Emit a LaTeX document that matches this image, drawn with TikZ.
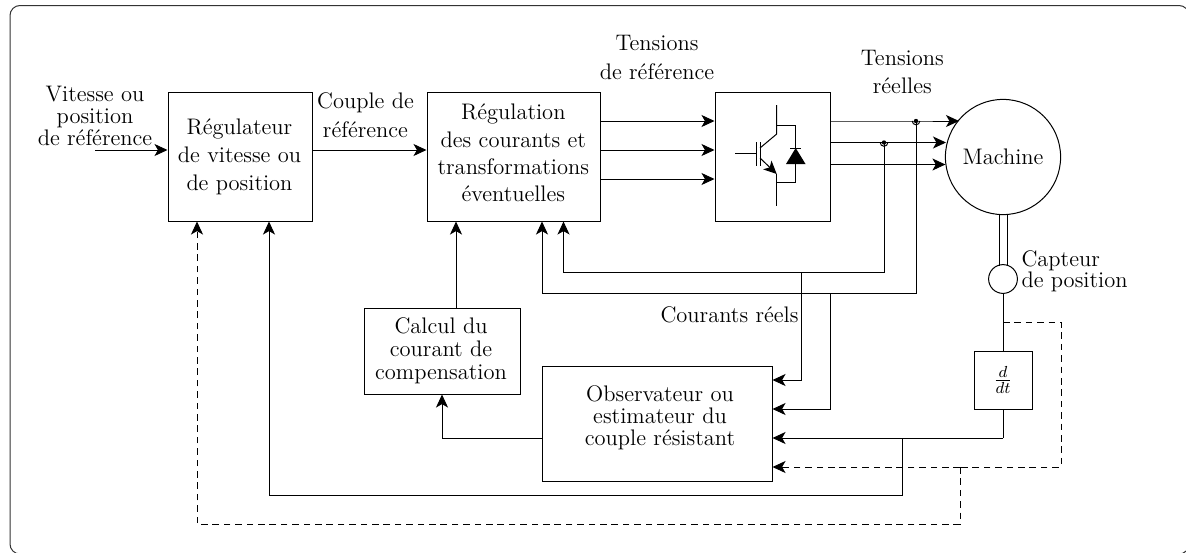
\documentclass[tikz,border=0pt]{standalone}
\usetikzlibrary{arrows.meta}
\tikzset{
  every picture/.style={line width=0.5pt},
  txt/.style={font=\fontsize{11.25}{#1}\selectfont},
  blockbox/.style={draw,inner sep=0pt,align=center},
  lab/.style={inner sep=0pt,align=center},
  arr/.style={-{Stealth[length=6.5pt,width=6pt,inset=1.7pt]}},
  dashline/.style={dash pattern=on 3.3pt off 2.4pt},
}
\newcommand{\boxat}[6]{\node[blockbox,minimum width=#4*0.5pt,minimum height=#5*0.5pt] (#1) at (#2,#3) {};}
\begin{document}
\begin{tikzpicture}[x=0.5pt,y=-0.5pt]
\useasboundingbox (0,0) rectangle (1186,552);
\clip (0,0) rectangle (1186,552);
\draw[rounded corners=5pt,draw=black!80] (10,5.5) rectangle (1189,554);
% blocks
\boxat{reg}{240}{156.5}{144}{129}{}
\boxat{cur}{513.5}{156.5}{173}{129}{}
\boxat{inv}{772.5}{156.5}{115}{129}{}
\boxat{obs}{657}{423.5}{230}{115}{}
\boxat{cal}{442}{351}{156}{86}{}
\node[blockbox,minimum width=29pt,minimum height=29pt,txt=13pt] (der) at (1003,380) {$\frac{d}{dt}$};
\node[draw,circle,minimum size=57.6pt,inner sep=0pt,txt=13pt] (mac) at (1003,157) {Machine};
\node[draw,circle,minimum size=14.4pt,inner sep=0pt] (cap) at (1003,279) {};
% block texts
\node[lab,txt=14.15pt] (t1) at (239.5,157) {R\'egulateur\\de vitesse ou\\de position};
\node[lab,txt=13.65pt] (t2) at (513.3,153) {R\'egulation\\des courants et\\transformations\\\'eventuelles};
\node[lab,txt=10.9pt] (t3) at (660,418) {Observateur ou\\estimateur du\\couple r\'esistant};
\node[lab,txt=11.5pt] (t4) at (441,351) {Calcul du\\courant de\\compensation};
% labels
\node[lab,txt=10.85pt] (l1) at (95,116) {Vitesse ou\\position\\de r\'ef\'erence};
\node[lab,txt=14.35pt] (l2) at (365.5,115) {Couple de\\r\'ef\'erence};
\node[lab,txt=14.5pt] (l3) at (657,57) {Tensions\\de r\'ef\'erence};
\node[lab,txt=13.85pt] (l4) at (902.3,72) {Tensions\\r\'eelles};
\node[lab,anchor=west,align=left,txt=10.7pt] (l5) at (1021,271) {Capteur\\de position};
\node[lab,anchor=east,txt=13pt] (l6) at (799,315) {Courants r\'eels};
% junction coordinates
\coordinate (in) at (95,150);
\coordinate (j1) at (884,142.5);
\coordinate (j2) at (916,121);
\coordinate (c1) at (884,272);
\coordinate (c2) at (916,293);
\coordinate (c1b) at (801,272);
\coordinate (c2b) at (830,293);
\coordinate (c1a) at (563.5,272);
\coordinate (c2a) at (542,293);
\coordinate (v1) at (1003,438);
\coordinate (v2) at (902,438);
\coordinate (v3) at (902,495);
\coordinate (v4) at (269,495);
\coordinate (d0) at (1003,322);
\coordinate (d1) at (1061,322);
\coordinate (d2) at (1061,467);
\coordinate (d3) at (960,467);
\coordinate (d4) at (960,524);
\coordinate (d5) at (197,524);
\coordinate (ca) at (442,438);
% forward path
\draw[arr] (in) -- (reg.west |- in);
\draw[arr] (reg.east |- in) -- (cur.west |- in);
\foreach \y in {121,150,179} \draw[arr] (cur.east |- 0,\y) -- (inv.west |- 0,\y);
% inverter to machine
\draw[arr] (inv.east |- j2) -- (j2) -- (959,121);
\draw[arr] (inv.east |- j1) -- (j1) -- (946,142.5);
\draw[arr] (inv.east |- 0,164.5) -- (945.4,164.5);
% line hops
\fill (j1) circle (1.1pt);
\fill (j2) circle (1.1pt);
\draw (j1) ++(-3.8,0) arc[start angle=180,end angle=0,radius=3.8];
\draw (j2) ++(-3.8,0) arc[start angle=180,end angle=0,radius=3.8];
% current feedback
\draw[arr] (j1) -- (c1) -- (c1a) -- (c1a |- cur.south);
\draw[arr] (j2) -- (c2) -- (c2a) -- (c2a |- cur.south);
\draw[arr] (c1b) -- (c1b |- 0,380) -- (obs.east |- 0,380);
\draw[arr] (c2b) -- (c2b |- 0,409) -- (obs.east |- 0,409);
% compensation
\draw[arr] (cal.north -| 456,0) -- (cur.south -| 456,0);
\draw[arr] (obs.west |- ca) -- (ca) -- (cal.south -| ca);
% shaft and sensor
\draw (999,214.6) -- (999,265.6);
\draw (1007,214.6) -- (1007,265.6);
\draw (cap.south) -- (der.north);
\draw (der.south) -- (v1);
\draw[arr] (v1) -- (obs.east |- v1);
\draw[arr] (v2) -- (v3) -- (v4) -- (reg.south -| v4);
\draw[dashline] (d0) -- (d1) -- (d2) -- (d3);
\draw[dashline,arr] (d3) -- (obs.east |- d3);
\draw[dashline,arr] (d3) -- (d4) -- (d5) -- (reg.south -| d5);
% IGBT
\draw (776.7,105) -- (776.7,134) -- (760,148);
\draw[arr] (760,158) -- (776.7,174);
\draw (776.7,174) -- (776.7,205.7);
\draw (760,142) -- (760,166);
\draw (756,142) -- (756,166);
\draw (735,153.7) -- (756,153.7);
\draw (776.7,125) -- (795.7,125) -- (795.7,182.7) -- (776.7,182.7);
\fill (795.7,148) -- (805.5,164) -- (786,164) -- cycle;
\draw (790,148) -- (801,148);
\end{tikzpicture}
\end{document}
